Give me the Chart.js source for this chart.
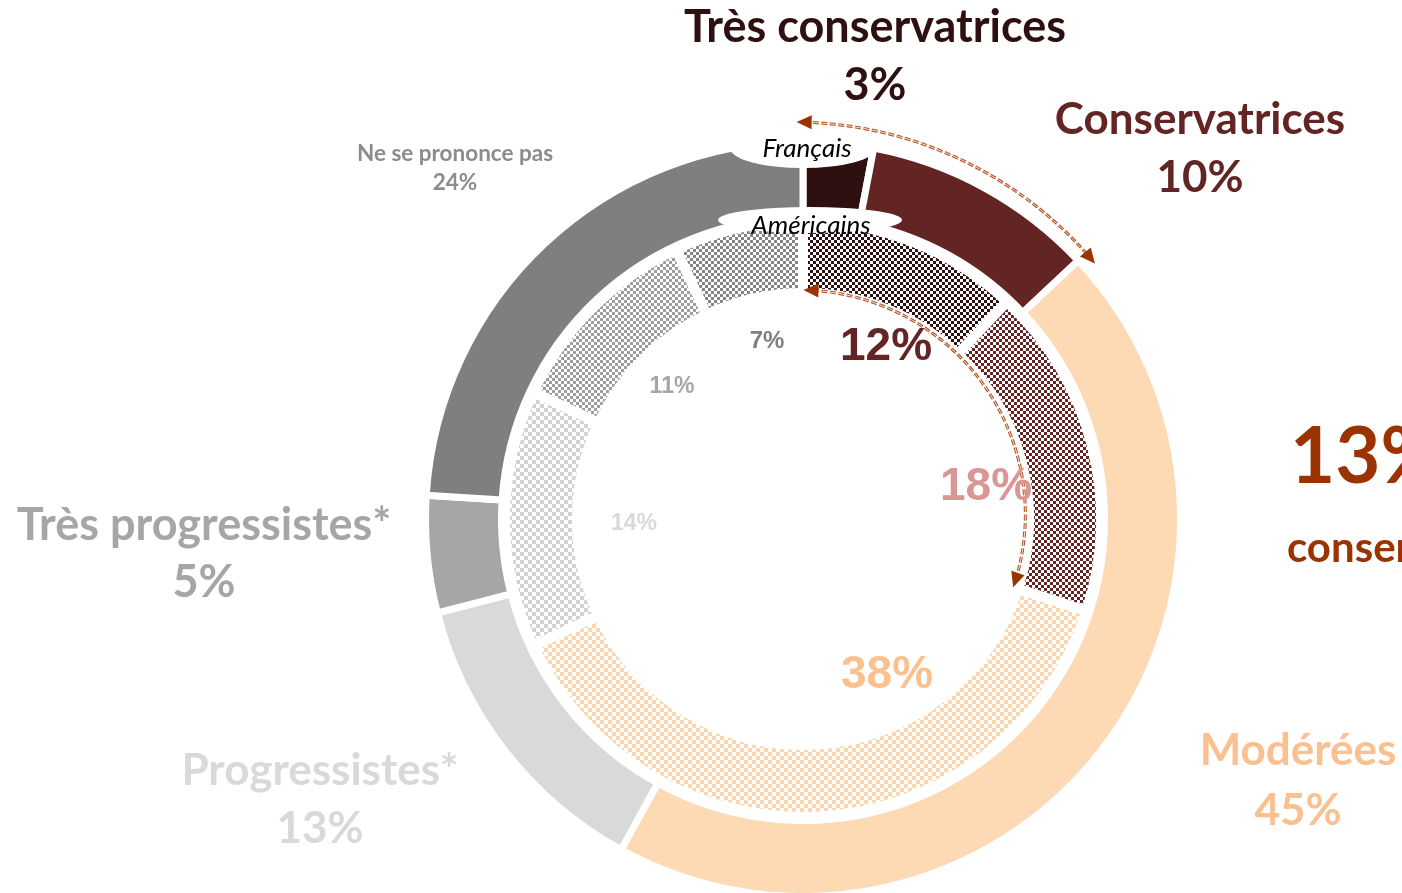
<!DOCTYPE html>
<html lang="fr">
<head>
<meta charset="utf-8">
<title>Orientation politique – Français / Américains</title>
<script src="https://cdn.jsdelivr.net/npm/chart.js@4/dist/chart.umd.min.js"></script>
<style>
  html, body { margin: 0; padding: 0; background: #fff; overflow: hidden; }
  canvas { display: block; }
</style>
</head>
<body>
<canvas id="donut" width="1402" height="893"></canvas>
<script>
// ---- data ----
const categories = ['Très conservatrices', 'Conservatrices', 'Modérées', 'Progressistes*', 'Très progressistes*', 'Ne se prononce pas'];
const francais   = [3, 10, 45, 13, 5, 24];
const americains = [12, 18, 38, 14, 11, 7];
const ringNames  = ['Français', 'Américains'];
const sideNote   = 'conservatrices';

// ---- styles ----
const solidColors   = ['#2E1010', '#632523', '#FDDAB4', '#D9D9D9', '#A6A6A6', '#7F7F7F'];
const checkerColors = ['#2E1010', '#632523', '#FDD6AE', '#D2D2D2', '#9E9E9E', '#858585'];
const checkerCells  = [3, 3, 4, 4, 3, 3];
const outerLabelColors = ['#2E1010', '#632523', '#FAC090', '#D9D9D9', '#A6A6A6', '#8C8C8C'];
const innerLabelColors = ['#632523', '#D99694', '#FAC090', '#D9D9D9', '#A6A6A6', '#808080'];
const accent = '#993300';

const OUTER_FONT = '"Lato", "Noto Sans", sans-serif';
const INNER_FONT = '"Liberation Sans", Arial, sans-serif';

// label placement: [centre x, baseline of name, baseline of value, font px]
const outerLayout = [
  [875, 42, 100, 45],
  [1200, 134, 192, 44],
  [1298, 765, 825, 44],
  [320, 785, 843, 44],
  [204, 540, 597, 45],
  [455, 161, 190, 22.5]
];
// [centre x, baseline, font px]
const innerLayout = [
  [886, 360, 46],
  [986, 500, 46],
  [887, 688, 46],
  [634, 530, 23],
  [672, 393, 23],
  [767, 348, 24]
];

function checker(color, cell) {
  const c = document.createElement('canvas');
  c.width = c.height = cell * 2;
  const g = c.getContext('2d');
  g.fillStyle = '#ffffff';
  g.fillRect(0, 0, cell * 2, cell * 2);
  g.fillStyle = color;
  g.fillRect(0, 0, cell, cell);
  g.fillRect(cell, cell, cell, cell);
  return g.createPattern(c, 'repeat');
}
const checkerFills = checkerColors.map((c, i) => checker(c, checkerCells[i]));

function arrowHead(g, x, y, ang) {
  const L = 15, w = 7;
  const ca = Math.cos(ang), sa = Math.sin(ang);
  g.beginPath();
  g.moveTo(x, y);
  g.lineTo(x - L * ca - w * sa, y - L * sa + w * ca);
  g.lineTo(x - L * ca + w * sa, y - L * sa - w * ca);
  g.closePath();
  g.fillStyle = accent;
  g.fill();
}

// dashed double-line arc with arrowheads at both ends
function spanArrow(g, cx, cy, a0, a1, r0, r1) {
  const n = 90, pts = [];
  for (let i = 0; i <= n; i++) {
    const t = i / n;
    const a = a0 + (a1 - a0) * t;
    const r = r0 + (r1 - r0) * t;
    pts.push([cx + r * Math.cos(a), cy + r * Math.sin(a)]);
  }
  g.save();
  g.beginPath();
  g.moveTo(pts[2][0], pts[2][1]);
  for (let i = 3; i <= n - 2; i++) g.lineTo(pts[i][0], pts[i][1]);
  g.setLineDash([6, 2.5]);
  g.lineWidth = 3;
  g.strokeStyle = '#B25020';
  g.stroke();
  g.lineWidth = 1;
  g.strokeStyle = '#FBE6D8';
  g.stroke();
  g.setLineDash([]);
  const s = Math.atan2(pts[0][1] - pts[1][1], pts[0][0] - pts[1][0]);
  const e = Math.atan2(pts[n][1] - pts[n - 1][1], pts[n][0] - pts[n - 1][0]);
  arrowHead(g, pts[0][0], pts[0][1], s);
  arrowHead(g, pts[n][0], pts[n][1], e);
  g.restore();
}

const overlay = {
  id: 'overlay',
  afterDatasetsDraw(chart) {
    const g = chart.ctx;
    const outer = chart.getDatasetMeta(0).data;
    const inner = chart.getDatasetMeta(2).data;
    const cx = outer[0].x, cy = outer[0].y;

    // white tabs carrying the ring names
    g.save();
    g.fillStyle = '#ffffff';
    g.beginPath(); g.ellipse(803, 148, 73, 20, 0, 0, Math.PI * 2); g.fill();
    g.beginPath(); g.ellipse(810, 220, 92, 13, 0, 0, Math.PI * 2); g.fill();
    g.fillStyle = '#000000';
    g.textAlign = 'center';
    g.textBaseline = 'alphabetic';
    g.font = 'italic 400 26px ' + OUTER_FONT;
    g.fillText(ringNames[0], 807, 157);
    g.font = 'italic 400 26px ' + OUTER_FONT;
    g.fillText(ringNames[1], 811, 234);
    g.restore();

    // arrows spanning the conservative shares of each ring
    const o0 = outer[0].getProps(['startAngle']).startAngle;
    const o1 = outer[1].getProps(['endAngle']).endAngle;
    spanArrow(g, cx, cy, o0 - 0.016, o1 + 0.035, 397, 388);
    const i0 = inner[0].getProps(['startAngle']).startAngle;
    const i1 = inner[1].getProps(['endAngle']).endAngle;
    spanArrow(g, cx, cy, i0 + 0.002, i1, 229, 221);

    // outer ring labels
    g.save();
    g.textAlign = 'center';
    g.textBaseline = 'alphabetic';
    categories.forEach((name, i) => {
      const [x, y1, y2, fs] = outerLayout[i];
      g.fillStyle = outerLabelColors[i];
      g.font = '700 ' + fs + 'px ' + OUTER_FONT;
      g.fillText(name, x, y1);
      g.fillText(francais[i] + '%', x, y2);
    });
    // inner ring labels
    americains.forEach((v, i) => {
      const [x, y, fs] = innerLayout[i];
      g.fillStyle = innerLabelColors[i];
      g.font = '700 ' + fs + 'px ' + INNER_FONT;
      g.fillText(v + '%', x, y);
    });
    // combined conservative share of the French ring
    g.textAlign = 'left';
    g.fillStyle = '#9A3300';
    g.font = '700 78px ' + OUTER_FONT;
    g.fillText((francais[0] + francais[1]) + '%', 1290, 483);
    g.font = '700 42px ' + OUTER_FONT;
    g.fillText(sideNote, 1287, 562);
    g.restore();
  }
};

const OUTER_R = 377.5, INNER_R = 226;

new Chart(document.getElementById('donut'), {
  type: 'doughnut',
  data: {
    labels: categories,
    datasets: [
      {
        label: ringNames[0],
        data: francais,
        backgroundColor: solidColors,
        borderColor: '#ffffff',
        borderWidth: 7,
        borderJoinStyle: 'miter',
        weight: 76,
        clip: false
      },
      {
        label: '',
        data: [1],
        backgroundColor: 'rgba(0,0,0,0)',
        borderWidth: 0,
        weight: 3.5,
        clip: false
      },
      {
        label: ringNames[1],
        data: americains,
        backgroundColor: checkerFills,
        borderColor: '#ffffff',
        borderWidth: 10,
        borderJoinStyle: 'miter',
        weight: 72,
        clip: false
      }
    ]
  },
  options: {
    responsive: false,
    animation: false,
    events: [],
    radius: OUTER_R,
    cutout: (INNER_R / OUTER_R * 100) + '%',
    layout: { padding: { left: 204, top: 145, right: 0, bottom: 0 } },
    plugins: { legend: { display: false }, tooltip: { enabled: false } }
  },
  plugins: [overlay]
});
</script>
</body>
</html>
